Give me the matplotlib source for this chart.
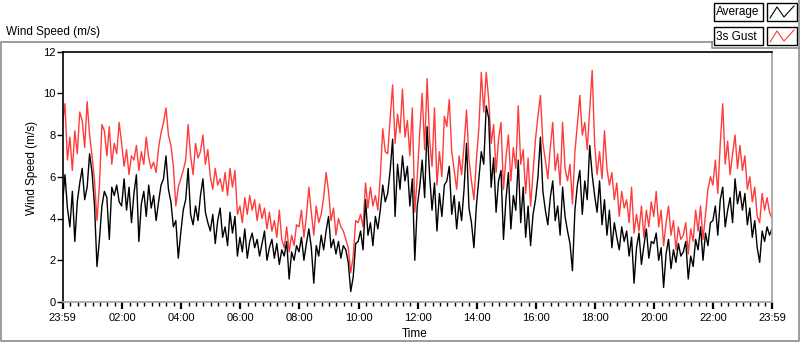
import numpy as np
import matplotlib
matplotlib.use("Agg")
import matplotlib.pyplot as plt
from matplotlib.lines import Line2D
from matplotlib.patches import Rectangle

# wind speed (m/s) read every 5 minutes, one row per hour, starting at 23:59
avg_speed = [
    [4.7, 6.1, 4.5, 3.6, 5.3, 2.9, 4.8, 5.7, 6.4, 4.9, 5.5, 7.1],
    [6.2, 4.6, 1.7, 3.0, 4.6, 5.3, 5.0, 3.0, 5.5, 5.1, 5.6, 4.8],
    [4.6, 5.9, 4.4, 5.5, 3.8, 5.2, 6.1, 2.9, 4.7, 5.3, 4.1, 5.6],
    [4.5, 5.1, 3.9, 4.8, 5.6, 5.9, 7.0, 5.4, 4.8, 3.6, 3.9, 2.1],
    [3.3, 4.4, 4.9, 6.4, 4.2, 3.7, 4.6, 3.9, 5.1, 5.9, 4.3, 3.8],
    [3.4, 4.2, 2.8, 3.9, 4.5, 3.1, 3.6, 2.7, 4.3, 3.3, 4.1, 2.2],
    [3.1, 2.4, 3.5, 2.1, 2.9, 3.3, 2.6, 3.0, 2.2, 2.8, 3.4, 2.0],
    [2.6, 3.0, 2.1, 2.8, 1.8, 2.5, 2.2, 2.9, 1.1, 2.4, 2.0, 2.7],
    [2.4, 3.1, 2.0, 2.8, 3.5, 2.6, 0.9, 2.7, 2.2, 3.2, 2.5, 3.4],
    [4.1, 2.6, 3.0, 2.3, 2.9, 2.1, 2.7, 2.5, 1.9, 0.5, 1.2, 2.8],
    [2.9, 3.4, 2.5, 4.9, 3.2, 3.8, 2.7, 4.1, 3.5, 4.4, 5.6, 4.8],
    [5.2, 6.3, 7.8, 4.1, 6.6, 5.4, 7.0, 5.8, 6.5, 4.6, 5.9, 2.0],
    [4.6, 5.5, 6.8, 5.0, 8.4, 6.1, 4.4, 5.7, 3.4, 5.2, 4.1, 5.6],
    [5.8, 6.5, 4.2, 5.1, 3.5, 4.8, 3.9, 5.4, 7.6, 4.5, 3.8, 2.6],
    [4.6, 5.9, 7.2, 6.6, 9.4, 8.8, 5.5, 6.9, 4.3, 5.8, 6.3, 3.0],
    [4.9, 6.2, 3.5, 5.1, 4.4, 6.8, 3.8, 5.5, 3.1, 4.6, 2.7, 4.2],
    [4.9, 6.0, 7.9, 5.3, 4.4, 3.7, 5.0, 5.8, 3.9, 4.6, 3.2, 5.5],
    [4.1, 3.4, 2.8, 1.5, 4.4, 5.6, 6.3, 4.2, 5.8, 4.9, 7.5, 6.1],
    [5.1, 4.3, 5.8, 3.7, 4.9, 3.2, 4.4, 2.6, 3.8, 3.1, 2.5, 3.6],
    [2.9, 3.4, 2.2, 3.1, 0.9, 2.6, 3.3, 1.8, 2.7, 3.5, 2.1, 2.9],
    [2.8, 3.3, 2.0, 2.6, 0.7, 2.3, 3.0, 1.6, 2.5, 1.9, 2.8, 2.2],
    [2.4, 2.9, 1.1, 2.2, 1.7, 3.0, 2.5, 3.6, 2.0, 3.3, 2.7, 3.8],
    [3.9, 4.6, 3.2, 4.9, 5.5, 3.6, 4.4, 5.0, 3.8, 5.9, 4.7, 5.3],
    [4.4, 5.2, 3.7, 4.5, 3.1, 3.9, 2.6, 1.9, 3.4, 2.9, 3.6, 3.2],
]
avg_last = 3.5

gust_speed = [
    [8.5, 9.5, 6.8, 7.9, 6.3, 8.2, 7.1, 9.1, 8.7, 7.4, 9.6, 8.0],
    [7.0, 5.8, 3.9, 5.6, 8.5, 8.2, 7.0, 8.4, 6.6, 7.6, 7.1, 8.6],
    [7.6, 6.5, 7.3, 6.1, 7.0, 6.8, 7.5, 6.3, 7.2, 6.6, 7.9, 6.9],
    [6.4, 6.7, 6.2, 7.4, 8.1, 8.6, 9.3, 8.0, 7.5, 6.5, 4.6, 5.5],
    [5.9, 6.3, 6.8, 8.5, 7.0, 6.1, 7.6, 6.9, 7.2, 8.0, 6.6, 7.3],
    [6.0, 5.4, 6.4, 5.6, 5.9, 5.3, 6.2, 5.1, 6.4, 5.5, 6.3, 4.2],
    [4.6, 3.8, 5.0, 4.2, 5.1, 4.4, 4.9, 3.9, 4.7, 4.0, 4.5, 3.5],
    [4.3, 3.4, 3.9, 3.1, 4.4, 3.0, 2.6, 3.6, 2.4, 3.2, 2.7, 3.7],
    [3.6, 4.4, 3.1, 4.1, 5.5, 4.3, 3.2, 4.6, 3.8, 4.2, 5.0, 6.2],
    [5.3, 3.9, 4.5, 3.2, 4.0, 3.6, 3.4, 3.0, 2.6, 1.4, 2.2, 3.9],
    [3.8, 4.2, 3.6, 5.7, 4.5, 5.5, 4.6, 5.1, 4.4, 6.0, 8.3, 7.2],
    [7.1, 8.8, 10.4, 7.6, 9.0, 8.1, 10.2, 7.9, 8.7, 7.0, 9.3, 4.3],
    [6.0, 8.1, 10.0, 7.3, 10.7, 7.8, 6.5, 9.3, 5.6, 7.2, 6.0, 8.9],
    [8.4, 9.7, 7.2, 6.3, 5.4, 7.0, 6.1, 7.5, 9.2, 6.8, 5.8, 4.9],
    [6.8, 8.3, 11.0, 9.1, 11.0, 9.7, 7.6, 8.5, 6.2, 7.8, 8.6, 5.4],
    [6.9, 8.0, 5.8, 7.4, 6.4, 9.4, 6.6, 7.3, 5.2, 6.9, 4.6, 6.2],
    [7.8, 8.9, 9.9, 7.6, 6.8, 5.9, 7.4, 8.6, 6.3, 7.1, 5.6, 8.6],
    [6.4, 5.8, 6.6, 4.7, 7.2, 8.5, 9.9, 8.0, 8.6, 7.3, 9.2, 11.1],
    [7.6, 6.1, 7.2, 5.9, 8.2, 6.4, 5.6, 6.2, 4.9, 5.7, 4.1, 5.3],
    [4.5, 4.9, 3.8, 5.5, 3.3, 4.2, 3.4, 4.6, 3.1, 4.4, 3.6, 4.8],
    [4.1, 5.3, 3.6, 4.4, 2.7, 3.8, 4.6, 3.2, 3.9, 2.5, 3.6, 3.0],
    [3.2, 3.8, 2.3, 3.5, 2.9, 4.4, 3.4, 4.6, 3.0, 4.2, 5.4, 6.0],
    [5.6, 6.8, 5.2, 7.6, 9.5, 6.6, 7.7, 6.1, 7.1, 8.0, 6.4, 7.5],
    [6.3, 7.0, 5.4, 6.0, 4.8, 5.5, 4.1, 3.8, 5.2, 4.4, 5.0, 4.3],
]
gust_last = 4.0

tick_minutes = [0, 121, 241, 361, 481, 601, 721, 841, 961, 1081, 1201, 1321, 1440]
tick_labels = ["23:59", "02:00", "04:00", "06:00", "08:00", "10:00", "12:00",
               "14:00", "16:00", "18:00", "20:00", "22:00", "23:59"]

avg = np.append(np.ravel(avg_speed), avg_last)
gust = np.append(np.ravel(gust_speed), gust_last)
minutes = np.arange(len(avg)) * 5

plt.rcParams['font.family'] = ['Liberation Sans', 'DejaVu Sans']

W, H = 800, 342
fig = plt.figure(figsize=(W / 100, H / 100), dpi=100)

# outer frame and legend panel (pixel coords, y from top)
def px(x, y):
    return x / W, 1 - y / H

gray = "#8c8c8c"
for pts in [[(712, 42), (0.5, 42), (0.5, 340.5), (798.5, 340.5), (798.5, 0)],
            [(712, 42), (712, 48), (798.5, 48)]]:
    xs, ys = zip(*[px(a, b) for a, b in pts])
    fig.add_artist(Line2D(xs, ys, color=gray, lw=1.2))

fig.text(6 / W, 1 - 32 / H, "Wind Speed (m/s)", fontsize=8.5, va="center", ha="left")

ax = fig.add_axes([62.5 / W, 1 - 302 / H, (772 - 62.5) / W, (302 - 51.5) / H])
ax.plot(minutes, gust, color="#ff3c3c", lw=1.0)
ax.plot(minutes, avg, color="black", lw=1.0)

ax.set_xlim(0, 1440)
ax.set_ylim(0, 12)
ax.set_yticks(range(0, 13, 2))
ax.set_xticks(tick_minutes)
ax.set_xticklabels(tick_labels)
ax.set_xticks(np.arange(16, 1440, 15), minor=True)
ax.tick_params(axis="both", labelsize=8, colors="black")
ax.tick_params(axis="y", length=4, width=1, pad=1)
ax.tick_params(axis="x", which="major", length=5, width=1.6, pad=3)
ax.tick_params(axis="x", which="minor", length=3, width=1)
ax.spines["left"].set_color("black")
ax.spines["top"].set_color("black")
ax.spines["right"].set_color("#a0a0a0")
ax.spines["bottom"].set_color("#a0a0a0")
for s in ax.spines.values():
    s.set_linewidth(1.2)

fig.text(415 / W, 1 - 334 / H, "Time", fontsize=8.5, ha="center", va="center")
fig.text(32 / W, 1 - 168 / H, "Wind Speed (m/s)", fontsize=8.5, rotation=90,
         ha="center", va="center")

# legend boxes
for row, (name, col) in enumerate([("Average", "black"), ("3s Gust", "#ff3c3c")]):
    top = 3 + row * 24
    x0, y0 = px(714, top + 18)
    fig.add_artist(Rectangle((x0, y0), 49 / W, 18 / H, transform=fig.transFigure,
                             facecolor="white", edgecolor="black", lw=1))
    fig.text(716 / W, 1 - (top + 9.5) / H, name, fontsize=8.5, va="center", ha="left")
    x1, y1 = px(767, top + 18)
    fig.add_artist(Rectangle((x1, y1), 30 / W, 18 / H, transform=fig.transFigure,
                             facecolor="white", edgecolor="black", lw=1))
    zx = [770, 777, 784, 794]
    zy = [top + 15, top + 4, top + 14, top + 3]
    xs, ys = zip(*[px(a, b) for a, b in zip(zx, zy)])
    fig.add_artist(Line2D(xs, ys, color=col, lw=0.8))

fig.savefig("out.png", dpi=100)
